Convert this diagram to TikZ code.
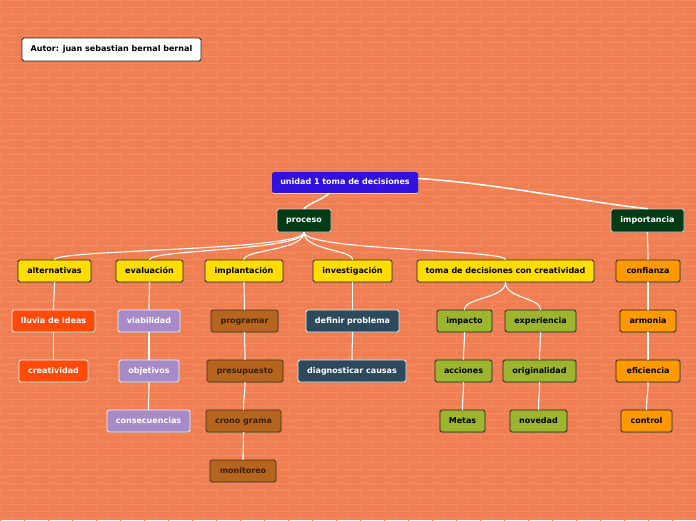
\documentclass[tikz,border=0pt]{standalone}
\usepackage{fontspec}
\setmainfont{DejaVu Sans}
\usetikzlibrary{shadows}
\definecolor{bgor}{HTML}{EF7F53}
\definecolor{brickln}{HTML}{F2895F}
\definecolor{cyel}{HTML}{FFDD00}
\definecolor{cora}{HTML}{FF9900}
\definecolor{cgrn}{HTML}{9BB52E}
\definecolor{cbrn}{HTML}{B5651D}
\definecolor{cbrntx}{HTML}{3A1F06}
\definecolor{cslt}{HTML}{2D4A5D}
\definecolor{clav}{HTML}{A68BC8}
\definecolor{cred}{HTML}{FF4A0A}
\definecolor{cblu}{HTML}{3311DD}
\definecolor{cdgr}{HTML}{033B15}
\definecolor{cdark}{HTML}{2A2418}
\tikzset{
  box/.style={rectangle, rounded corners=1.8pt, inner sep=0pt, minimum height=22pt,
    font=\fontsize{8}{9.5}\selectfont\bfseries, line width=0.8pt,
    text height=5.8pt, text depth=1.5pt,
    drop shadow={shadow xshift=0.7pt, shadow yshift=-0.9pt, opacity=0.35}},
  yel/.style={box, fill=cyel, draw=cdark, text=black},
  ora/.style={box, fill=cora, draw=cdark, text=black},
  grn/.style={box, fill=cgrn, draw=cdark, text=black},
  brn/.style={box, fill=cbrn, draw=cdark!80!cbrn, text=cbrntx},
  slt/.style={box, fill=cslt, draw=white!85!gray, text=white},
  lav/.style={box, fill=clav, draw=white!90!gray, text=white},
  red/.style={box, fill=cred, draw=white!90!gray, text=white},
  dgr/.style={box, fill=cdgr, draw=white!60!gray, text=white},
  conn/.style={draw=white, line width=1.1pt, line cap=round},
  brick/.style={draw=brickln, line width=0.45pt}
}
\begin{document}
\begin{tikzpicture}[x=1pt,y=-1pt]
\useasboundingbox (0,0) rectangle (696,520);
\fill[bgor] (0,0) rectangle (696,520);
\foreach \r [evaluate=\r as \off using {mod(\r,2)*12}] in {0,...,74} {
  \draw[brick] (0,\r*7) -- (696,\r*7);
  \foreach \c in {0,...,29} \draw[brick] (\c*24+\off,\r*7) -- ++(0,7);
}
% nodes
\node[box, fill=white, draw=cdark, text=black, minimum width=179pt, minimum height=23pt] (autor) at (111.5,49.5) {Autor: juan sebastian bernal bernal};
\node[box, fill=cblu, draw=none, text=white, minimum width=146pt, minimum height=21pt] (unid) at (345,182.5) {unidad 1 toma de decisiones};
\draw[white!85!cblu, line width=0.8pt] ([xshift=1pt]unid.south west) -- ([xshift=-1pt]unid.south east);
\node[dgr, minimum width=54pt, minimum height=23pt] (proc) at (304,220.5) {proceso};
\node[dgr, minimum width=73pt, minimum height=23pt] (imp) at (647.5,220.5) {importancia};
% level 3
\node[yel, minimum width=73pt] (alt) at (54.5,271) {alternativas};
\node[yel, minimum width=67pt] (eva) at (149.5,271) {evaluación};
\node[yel, minimum width=78pt] (iml) at (244,271) {implantación};
\node[yel, minimum width=79pt] (inv) at (352.5,271) {investigación};
\node[yel, minimum width=177pt] (tom) at (505.5,271) {toma de decisiones con creatividad};
\node[ora, minimum width=64pt] (con) at (648,271) {confianza};
% level 4
\node[red, minimum width=83pt] (llu) at (53.5,321) {lluvia de ideas};
\node[lav, minimum width=62pt] (via) at (149,321) {viabilidad};
\node[brn, minimum width=67pt] (pro) at (244.5,321) {programar};
\node[slt, minimum width=93pt] (def) at (352.5,321) {definir problema};
\node[grn, minimum width=55pt] (ipc) at (464.5,321) {impacto};
\node[grn, minimum width=71pt] (exp) at (540.5,321) {experiencia};
\node[ora, minimum width=56pt] (arm) at (648,321) {armonia};
% level 5
\node[red, minimum width=69pt] (cre) at (53.5,371) {creatividad};
\node[lav, minimum width=60pt] (obj) at (149,371) {objetivos};
\node[brn, minimum width=76pt] (pre) at (245,371) {presupuesto};
\node[slt, minimum width=108pt] (dia) at (352,371) {diagnosticar causas};
\node[grn, minimum width=57pt] (acc) at (463.5,371) {acciones};
\node[grn, minimum width=73pt] (ori) at (539.5,371) {originalidad};
\node[ora, minimum width=64pt] (efi) at (648,371) {eficiencia};
% level 6
\node[lav, minimum width=83pt] (cns) at (148.5,421) {consecuencias};
\node[brn, minimum width=75pt] (cro) at (243.5,421) {crono grama};
\node[grn, minimum width=45pt] (met) at (462.5,421) {Metas};
\node[grn, minimum width=57pt] (nov) at (538.5,421) {novedad};
\node[ora, minimum width=51pt] (ctl) at (646.5,421) {control};
% level 7
\node[brn, minimum width=66pt] (mon) at (243,471) {monitoreo};
% connectors
\draw[conn, line width=1.5pt] ([xshift=-16pt]unid.south) .. controls +(-6,6) and +(6,-6) .. (proc.north);
\draw[conn, line width=1.5pt] ([yshift=4pt]unid.east) .. controls +(80,5) and +(-60,-6) .. (imp.north);
\foreach \c in {alt,eva,iml,inv,tom}
  \draw[conn] (proc.south) .. controls +(0,18) and +(0,-10) .. (\c.north);
\foreach \a/\b in {imp/con,con/arm,arm/efi,efi/ctl,alt/llu,llu/cre,eva/via,via/obj,obj/cns,iml/pro,pro/pre,pre/cro,cro/mon,inv/def,def/dia,ipc/acc,acc/met,exp/ori,ori/nov}
  \draw[conn] (\a.south) .. controls +(0,12) and +(0,-12) .. (\b.north);
\draw[conn] (tom.south) .. controls +(0,16) and +(0,-12) .. (ipc.north);
\draw[conn] (tom.south) .. controls +(0,16) and +(0,-12) .. (exp.north);
\end{tikzpicture}
\end{document}
